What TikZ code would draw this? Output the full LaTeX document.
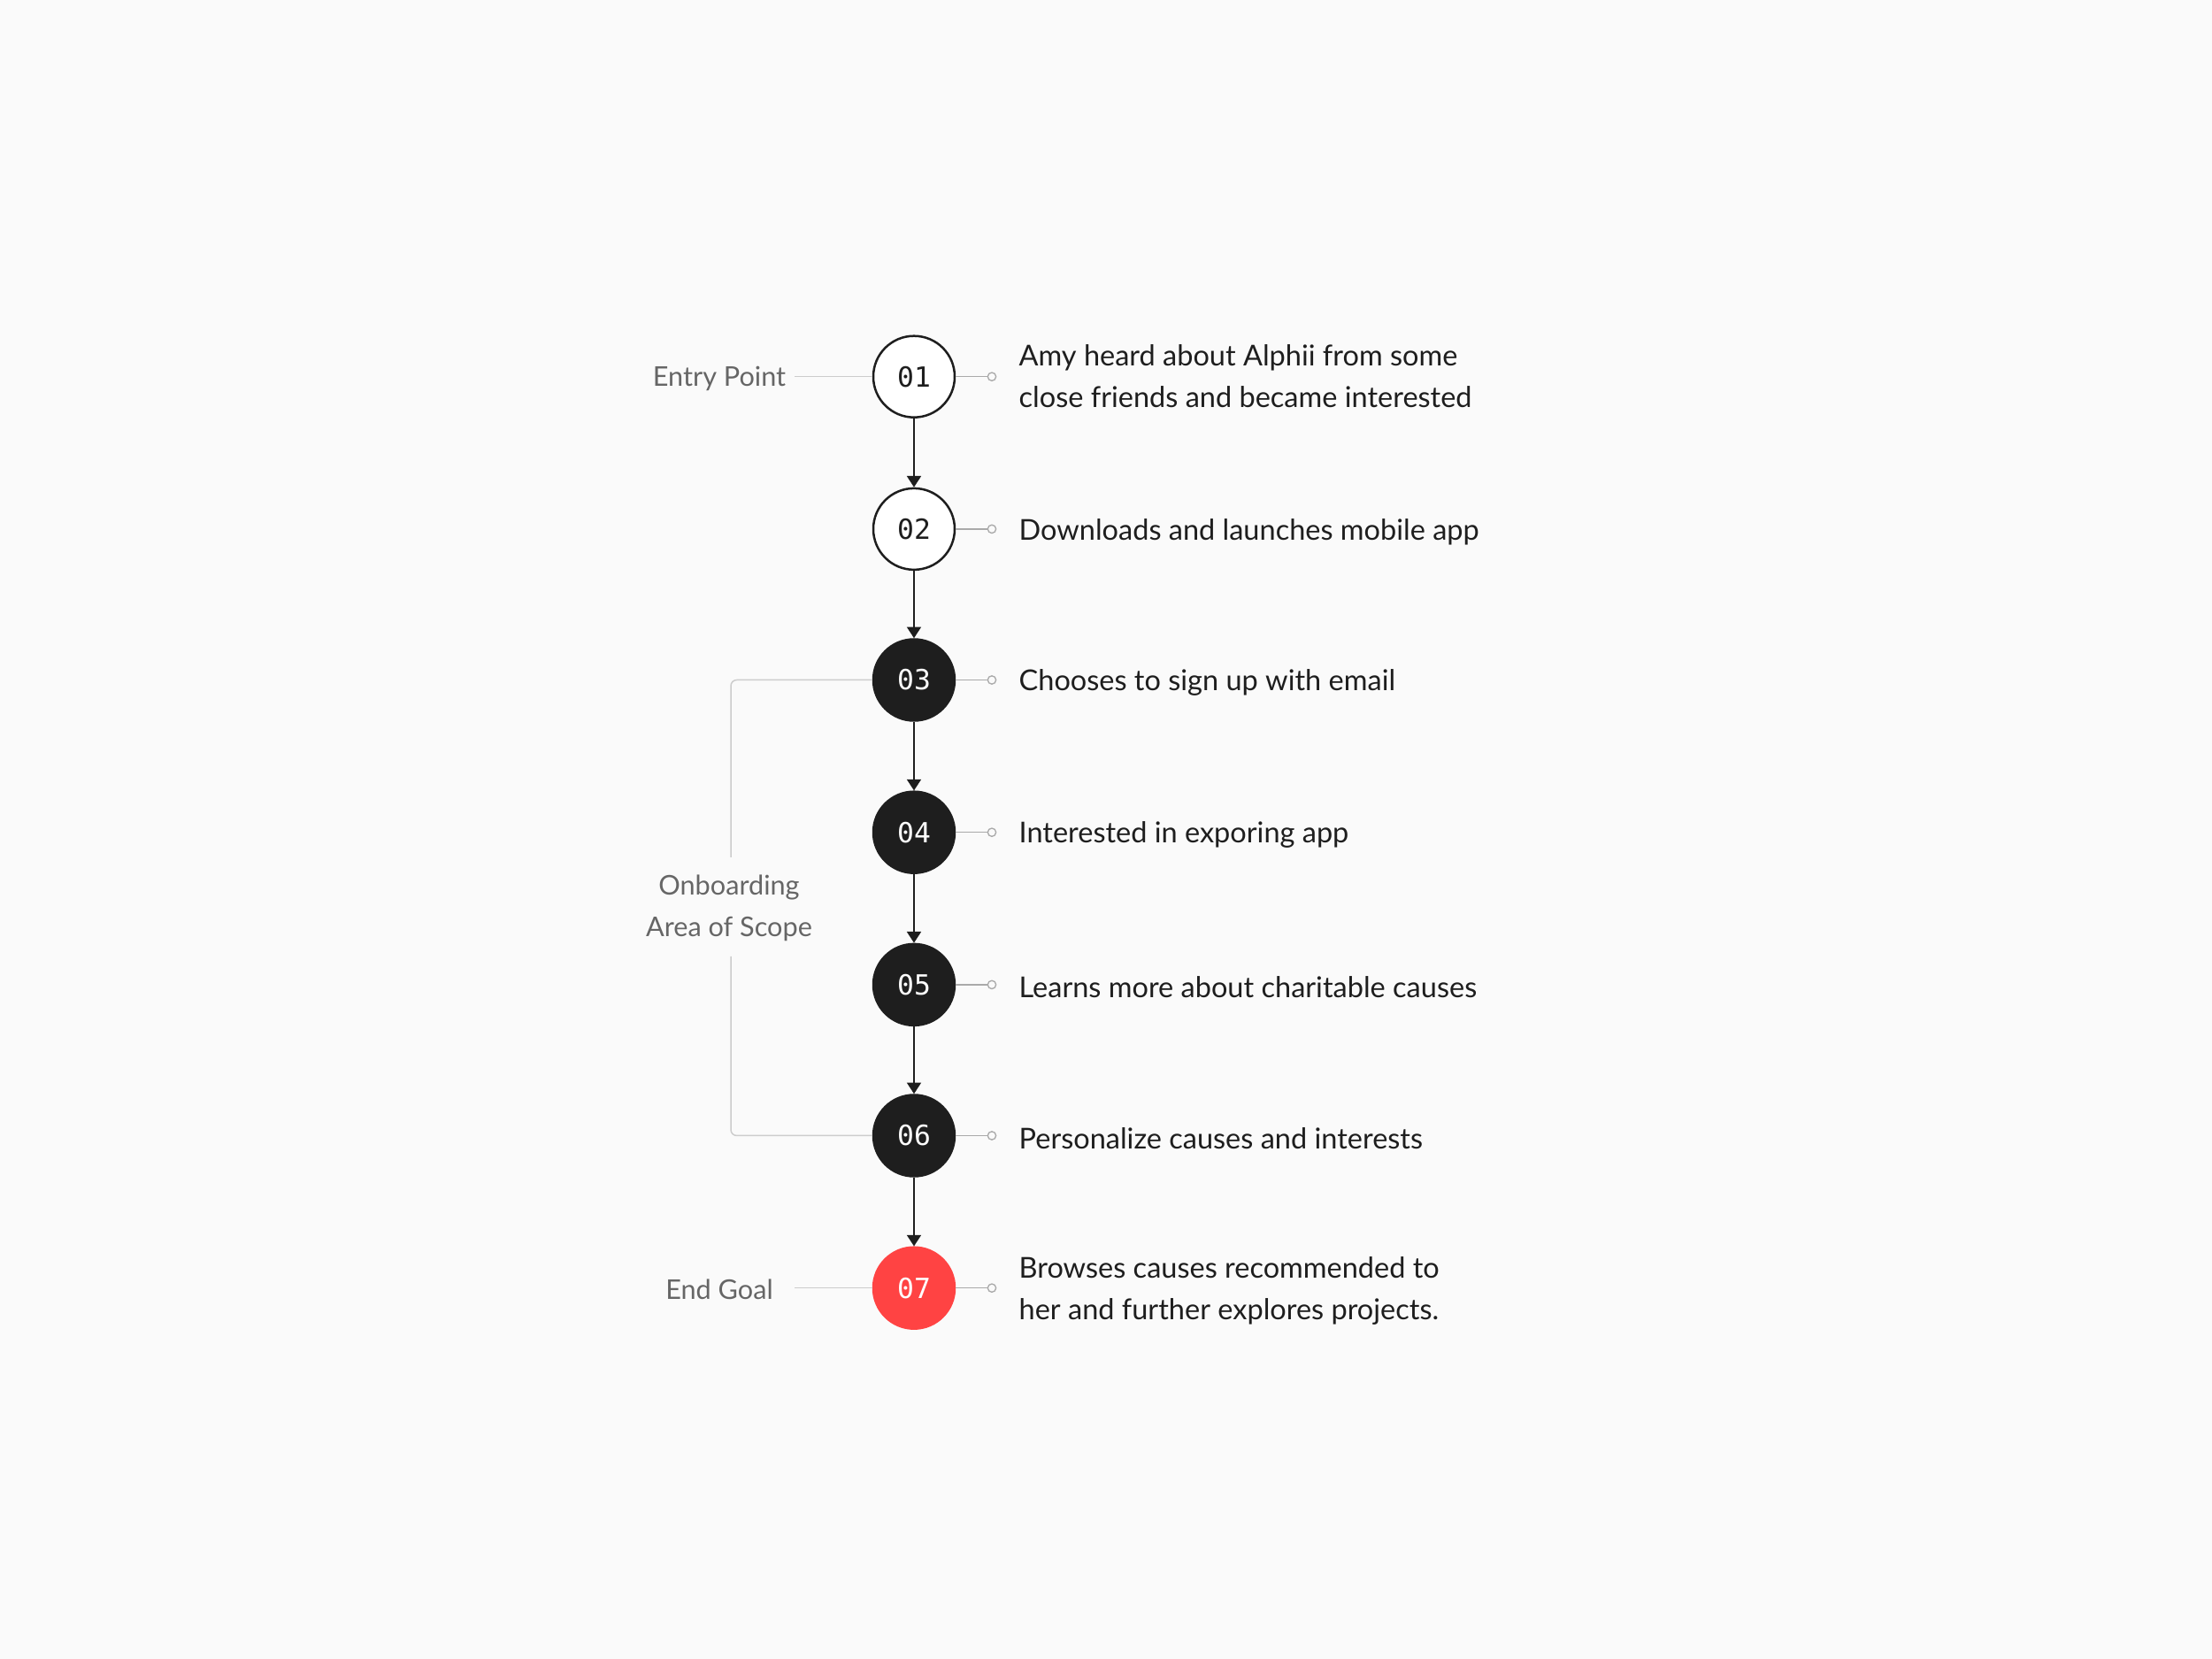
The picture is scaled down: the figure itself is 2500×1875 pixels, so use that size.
\documentclass[tikz,border=0pt]{standalone}
\usepackage{fontspec}
\setmainfont{Lato}
\newfontfamily\numfont{DejaVu Sans Mono}
\usetikzlibrary{arrows.meta}
\definecolor{bgc}{HTML}{FAFAFA}
\definecolor{darkc}{HTML}{1E1E1E}
\definecolor{redc}{HTML}{FF4343}
\definecolor{grayt}{HTML}{666666}
\definecolor{grayl}{HTML}{CCCCCC}
\definecolor{grayk}{HTML}{AAAAAA}
\tikzset{
  stepnode/.style={circle, minimum size=92*0.3pt, inner sep=0pt, line width=0.75pt, draw=darkc, font=\numfont\fontsize{9.4}{11}\selectfont},
  openstep/.style={stepnode, fill=white, text=darkc},
  darkstep/.style={stepnode, fill=darkc, text=white},
  redstep/.style={stepnode, fill=redc, draw=redc, text=white},
  desc/.style={anchor=west, align=left, inner sep=0pt, text=darkc, font=\fontsize{9.75}{14.1}\selectfont},
  sidelabel/.style={align=center, inner sep=0pt, text=grayt, font=\fontsize{9.2}{14.1}\selectfont},
  flow/.style={draw=darkc, line width=0.55pt, -{Triangle[length=3.8pt,width=4.8pt]}},
  tick/.style={draw=grayk, line width=0.45pt},
  dot/.style={circle, draw=grayk, fill=bgc, line width=0.4pt, minimum size=2.8pt, inner sep=0pt},
  guide/.style={draw=grayl, line width=0.45pt},
}
\begin{document}
\begin{tikzpicture}[x=0.3pt,y=-0.3pt]
\fill[bgc] (0,0) rectangle (2500,1875);
\useasboundingbox (0,0) rectangle (2500,1875);
% steps
\node[openstep] (n1) at (1033,425.7) {01};
\node[openstep] (n2) at (1033,597.9) {02};
\node[darkstep] (n3) at (1033,768.5) {03};
\node[darkstep] (n4) at (1033,940.7) {04};
\node[darkstep] (n5) at (1033,1112.9) {05};
\node[darkstep] (n6) at (1033,1283.5) {06};
\node[redstep]  (n7) at (1033,1455.7) {07};
% flow arrows
\draw[flow] (n1) -- (n2);
\draw[flow] (n2) -- (n3);
\draw[flow] (n3) -- (n4);
\draw[flow] (n4) -- (n5);
\draw[flow] (n5) -- (n6);
\draw[flow] (n6) -- (n7);
% right markers and descriptions
\foreach \i in {1,...,7}{
  \node[dot] (d\i) at ([xshift=88*0.3pt]n\i.center) {};
  \draw[tick] (n\i.east) -- (d\i.west);
}
\node[desc] (t1) at (1151,425.2) {Amy heard about Alphii from some\\close friends and became interested};
\node[desc] (t2) at (1151,600.9) {Downloads and launches mobile app};
\node[desc] (t3) at (1151,771.5) {Chooses to sign up with email};
\node[desc] (t4) at (1151,943.7) {Interested in exporing app};
\node[desc] (t5) at (1151,1115.9) {Learns more about charitable causes};
\node[desc] (t6) at (1151,1286.5) {Personalize causes and interests};
\node[desc] (t7) at (1151,1458.5) {Browses causes recommended to\\her and further explores projects.};
% left labels
\node[sidelabel] (entry) at (813,427.7) {Entry Point};
\node[sidelabel] (goal) at (813,1457.7) {End Goal};
\coordinate (entryend) at (898,425.7);
\coordinate (goalend) at (898,1455.7);
\draw[guide] (entryend) -- (n1.west);
\draw[guide] (goalend) -- (n7.west);
% onboarding bracket
\node[sidelabel] (scope) at (824,1026) {Onboarding\\Area of Scope};
\coordinate (btop) at (826,969);
\coordinate (bbot) at (826,1081);
\draw[guide, rounded corners=2pt] (n3.west) -| (btop);
\draw[guide, rounded corners=2pt] (n6.west) -| (bbot);
\end{tikzpicture}
\end{document}
